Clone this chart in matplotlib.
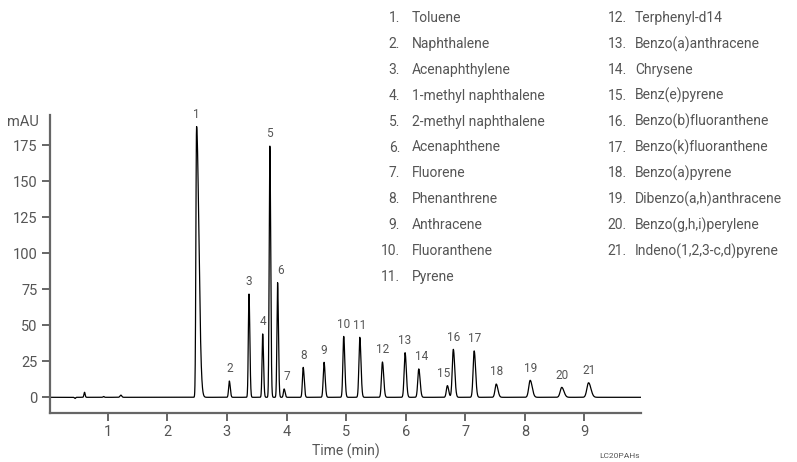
import numpy as np
import matplotlib
matplotlib.use("Agg")
import matplotlib.pyplot as plt

plt.rcParams["font.family"] = ["Roboto", "Liberation Sans", "DejaVu Sans"]

# peak table: retention time (min), height (mAU), width (min)
peak_ids = list(range(1, 22))
peak_rt = [2.49, 3.04, 3.37, 3.60, 3.72, 3.85, 3.96, 4.28, 4.63, 4.96, 5.23,
           5.61, 5.99, 6.22, 6.70, 6.80, 7.15, 7.52, 8.09, 8.62, 9.07]
peak_height = [188, 11.3, 71.7, 44, 174.7, 79.6, 5.8, 20.8, 24.3, 42.3, 41.7,
               24.5, 31, 19.7, 8.1, 33.3, 32.2, 9.2, 11.8, 6.9, 10.1]
peak_width = [0.011, 0.012, 0.011, 0.011, 0.011, 0.011, 0.012, 0.013, 0.014, 0.014, 0.015,
              0.016, 0.016, 0.017, 0.017, 0.018, 0.018, 0.020, 0.024, 0.026, 0.028]
peak_tail = [3.5, 1.3, 1.3, 1.3, 1.3, 1.3, 1.3, 1.3, 1.3, 1.3, 1.3,
             1.3, 1.3, 1.3, 1.3, 1.3, 1.3, 1.4, 1.4, 1.4, 1.4]

# small unlabeled baseline disturbances
blip_rt = [0.45, 0.61, 0.93, 1.22]
blip_height = [-0.8, 3.5, 0.6, 1.5]
blip_width = [0.01, 0.01, 0.01, 0.015]

compounds = ["Toluene", "Naphthalene", "Acenaphthylene", "1-methyl naphthalene",
             "2-methyl naphthalene", "Acenaphthene", "Fluorene", "Phenanthrene",
             "Anthracene", "Fluoranthene", "Pyrene", "Terphenyl-d14",
             "Benzo(a)anthracene", "Chrysene", "Benz(e)pyrene", "Benzo(b)fluoranthene",
             "Benzo(k)fluoranthene", "Benzo(a)pyrene", "Dibenzo(a,h)anthracene",
             "Benzo(g,h,i)perylene", "Indeno(1,2,3-c,d)pyrene"]

GREY = "#555555"


def trace(t):
    y = np.zeros_like(t)
    for rt, h, w, tail in zip(peak_rt, peak_height, peak_width, peak_tail):
        s = np.where(t < rt, w, w * tail)
        y += h * np.exp(-0.5 * ((t - rt) / s) ** 2)
    for rt, h, w in zip(blip_rt, blip_height, blip_width):
        y += h * np.exp(-0.5 * ((t - rt) / w) ** 2)
    return y


t = np.linspace(0.03, 9.95, 6000)
y = trace(t)

fig = plt.figure(figsize=(7.97, 4.62), dpi=100)
ax = fig.add_axes([50 / 797, 1 - 413 / 462, (641 - 50) / 797, (413 - 115) / 462])
ax.plot(t, y, color="black", lw=0.9)
ax.set_xlim(0.03, 9.95)
ax.set_ylim(-10.9, 196)

for s in ["top", "right"]:
    ax.spines[s].set_visible(False)
for s in ["left", "bottom"]:
    ax.spines[s].set_color("#666666")
    ax.spines[s].set_linewidth(1.6)

ax.set_xticks(range(1, 10))
ax.set_yticks([0, 25, 50, 75, 100, 125, 150, 175])
ax.tick_params(direction="out", length=6, width=1.4, color="#666666",
               labelcolor=GREY, labelsize=10.5, pad=3)

fig.text(346 / 797, 1 - 451 / 462, "Time (min)", ha="center", va="center",
         fontsize=10, color=GREY)
fig.text(23 / 797, 1 - 122 / 462, "mAU", ha="center", va="center",
         fontsize=10.5, color=GREY)
fig.text(620 / 797, 1 - 456 / 462, "LC20PAHs", fontsize=6, color=GREY, ha="center", va="center")

# peak numbers, nudged sideways where peaks crowd together
dx = {6: 2, 7: 2, 14: 2, 15: -3}
for pid, rt, h in zip(peak_ids, peak_rt, peak_height):
    ax.annotate(str(pid), (rt, h), xytext=(dx.get(pid, 0), 4), textcoords="offset points",
                ha="center", va="bottom", fontsize=8.5, color=GREY)

# compound key, two columns
row_h = 25.9
for i, name in enumerate(compounds):
    col, row = (0, i) if i < 11 else (1, i - 11)
    num_x = [400, 627][col]
    name_x = [412, 635][col]
    yy = 1 - (18 + row * row_h) / 462
    fig.text(num_x / 797, yy, f"{i + 1}.", ha="right", va="center", fontsize=10, color=GREY)
    fig.text(name_x / 797, yy, name, ha="left", va="center", fontsize=10, color=GREY)

fig.savefig("out.png", dpi=100)
